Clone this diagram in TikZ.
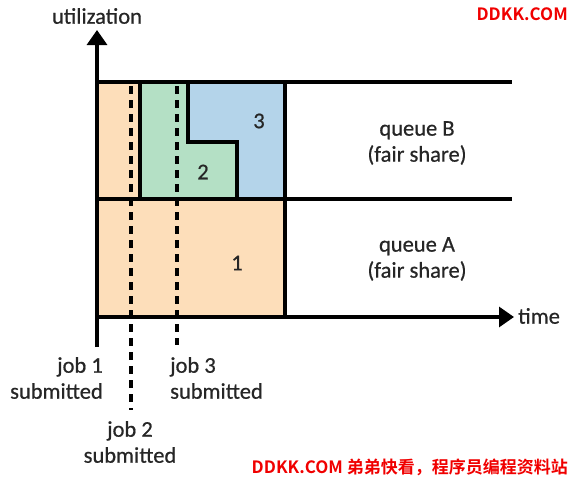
\documentclass[tikz,border=0pt]{standalone}
\usepackage{fontspec}
\setmainfont{Carlito}[FakeBold=0.6]
\newfontfamily\cjk{Noto Sans CJK SC}[BoldFont={* Bold}]
\usetikzlibrary{arrows.meta}
\definecolor{jobA}{RGB}{253,222,186}
\definecolor{jobG}{RGB}{180,224,197}
\definecolor{jobB}{RGB}{180,212,234}
\definecolor{wm}{RGB}{240,0,0}
\tikzset{
  x=1pt, y=-1pt,
  ln/.style={line width=3.2pt, black},
  dsh/.style={line width=3.2pt, black, dash pattern=on 8pt off 6pt},
  axarrow/.style={ln, -{Triangle[width=20pt,length=15pt]}},
  lbl/.style={font=\fontsize{22.5}{26}\selectfont, inner sep=0pt, text=black!85},
  wmark/.style={font=\cjk\bfseries\fontsize{17}{20}\selectfont, text=wm, inner sep=0pt},
}
\begin{document}
\begin{tikzpicture}
\useasboundingbox (0,0) rectangle (572,479);
% fills
\fill[jobA] (97,82) rectangle (285,317);
\fill[jobG] (140,82) -- (188,82) -- (188,142) -- (237,142) -- (237,199) -- (140,199) -- cycle;
\fill[jobB] (188,82) -- (285,82) -- (285,199) -- (237,199) -- (237,142) -- (188,142) -- cycle;
% coordinates
\coordinate (yb) at (97,347);
\coordinate (yt) at (97,30);
\coordinate (xl) at (97,317);
\coordinate (xr) at (514,317);
\coordinate (tl) at (97,82);
\coordinate (tr) at (512,82);
\coordinate (ml) at (97,199);
\coordinate (mr) at (512,199);
% dashed lines
\draw[dsh] (131,86) -- (131,410);
\draw[dsh] (177,86) -- (177,345);
% outlines
\draw[ln] (tl) -- (tr);
\draw[ln] (ml) -- (mr);
\draw[ln] (285,82) -- (285,317);
\draw[ln] (140,82) -- (140,199);
\draw[ln] (188,82) -- (188,142) -- (237,142) -- (237,199);
\draw[axarrow] (yb) -- (yt);
\draw[axarrow] (xl) -- (xr);
% labels
\node[lbl] (util) at (97,16) {utilization};
\node[lbl, anchor=west] (time) at (518,316) {time};
\node[lbl] (n3) at (259,121) {3};
\node[lbl] (n2) at (203,172) {2};
\node[lbl] (n1) at (237,263) {1};
\node[lbl, align=center] (qB) at (417,143) {queue B\\(fair share)};
\node[lbl, align=center] (qA) at (417,259) {queue A\\(fair share)};
\node[lbl, align=right, anchor=east] (j1) at (103,378) {job 1\\submitted};
\node[lbl, align=center] (j2) at (130,442) {job 2\\submitted};
\node[lbl, align=left, anchor=west] (j3) at (170,378) {job 3\\submitted};
% watermarks
\node[wmark, anchor=east] (wm1) at (568,14) {DDKK.COM};
\node[wmark, anchor=east] (wm2) at (568,467) {DDKK.COM 弟弟快看，程序员编程资料站};
\end{tikzpicture}
\end{document}
